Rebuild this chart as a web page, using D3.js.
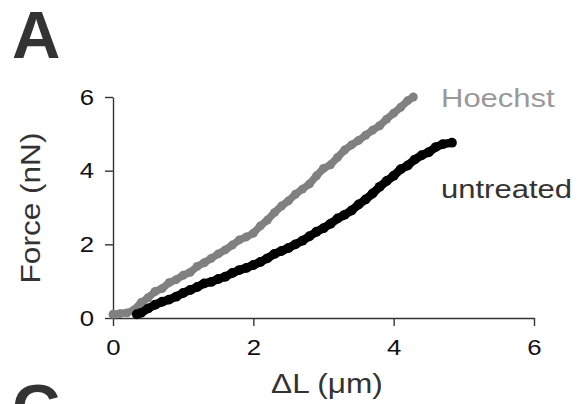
<!DOCTYPE html>
<html>
<head>
<meta charset="utf-8">
<script src="https://cdn.jsdelivr.net/npm/d3@7"></script>
<style>
  body { margin: 0; background: #fff; }
  svg text { font-family: "Liberation Sans", Arial, Helvetica, sans-serif; }
</style>
</head>
<body>
<div id="chart"></div>
<script>
// values (ΔL in µm, force in nN)
const hoechstX = [0.00, 0.10, 0.20, 0.30, 0.40, 0.50, 0.60, 0.70, 0.80, 0.90, 1.00, 1.10, 1.20, 1.30, 1.40, 1.50, 1.60, 1.70, 1.80, 1.90, 2.00, 2.10, 2.20, 2.30, 2.40, 2.50, 2.60, 2.70, 2.80, 2.90, 3.00, 3.10, 3.20, 3.30, 3.40, 3.50, 3.60, 3.70, 3.80, 3.90, 4.00, 4.10, 4.20, 4.28]
const hoechstY = [0.10, 0.12, 0.14, 0.22, 0.42, 0.55, 0.72, 0.80, 0.96, 1.04, 1.16, 1.24, 1.40, 1.50, 1.62, 1.74, 1.85, 1.98, 2.12, 2.20, 2.30, 2.50, 2.66, 2.86, 3.04, 3.18, 3.36, 3.50, 3.64, 3.86, 4.06, 4.16, 4.36, 4.56, 4.70, 4.82, 4.96, 5.10, 5.22, 5.40, 5.56, 5.72, 5.90, 6.00]

const untreatedX = [0.34, 0.40, 0.50, 0.60, 0.70, 0.80, 0.90, 1.00, 1.10, 1.20, 1.30, 1.40, 1.50, 1.60, 1.70, 1.80, 1.90, 2.00, 2.10, 2.20, 2.30, 2.40, 2.50, 2.60, 2.70, 2.80, 2.90, 3.00, 3.10, 3.20, 3.30, 3.40, 3.50, 3.60, 3.70, 3.80, 3.90, 4.00, 4.10, 4.20, 4.30, 4.40, 4.50, 4.60, 4.70, 4.83]
const untreatedY = [0.10, 0.14, 0.26, 0.36, 0.44, 0.50, 0.58, 0.68, 0.76, 0.84, 0.94, 0.98, 1.06, 1.12, 1.22, 1.30, 1.36, 1.44, 1.52, 1.62, 1.74, 1.82, 1.90, 2.00, 2.10, 2.22, 2.34, 2.44, 2.56, 2.70, 2.80, 2.92, 3.08, 3.22, 3.38, 3.56, 3.72, 3.86, 4.04, 4.14, 4.30, 4.42, 4.50, 4.64, 4.72, 4.76]

const xTicks = [0, 2, 4, 6]
const yTicks = [0, 2, 4, 6]

const width = 578, height = 404
const margin = { top: 97, right: 44, bottom: 86, left: 113 }
const textColor = '#333'
const sx = 1.17 // the lettering in the figure is a bit wider than Arial

const svg = d3.select('#chart')
  .append('svg')
  .attr('width', width)
  .attr('height', height)

const x = d3.scaleLinear()
  .domain([0, 6])
  .range([margin.left, width - margin.right])

const y = d3.scaleLinear()
  .domain([0, 6])
  .range([height - margin.bottom, margin.top])

// axes
const xAxis = svg.append('g')
  .attr('transform', `translate(0,${y(0)})`)
  .call(d3.axisBottom(x).tickValues(xTicks).tickFormat(d3.format('d'))
    .tickSize(8).tickSizeOuter(0).tickPadding(13))
xAxis.selectAll('text')
  .attr('transform', `scale(${sx},1)`)

const yAxis = svg.append('g')
  .attr('transform', `translate(${x(0)},0)`)
  .call(d3.axisLeft(y).tickValues(yTicks).tickFormat(d3.format('d'))
    .tickSize(8).tickSizeOuter(0).tickPadding(11))
yAxis.selectAll('text')
  .attr('x', -19 / sx)
  .attr('transform', `scale(${sx},1)`)

svg.selectAll('.domain, .tick line')
  .attr('stroke', textColor)
  .attr('stroke-width', 1.4)
svg.selectAll('.tick text')
  .attr('fill', '#111')
  .style('font-size', '22px')

// curves: a thick line plus a bead at every sample, like the overlapping markers in the figure
const line = d3.line()
  .x(d => x(d[0]))
  .y(d => y(d[1]))

const series = [
  { name: 'Hoechst', xs: hoechstX, ys: hoechstY, color: '#808080', w: 7.5 },
  { name: 'untreated', xs: untreatedX, ys: untreatedY, color: '#000', w: 8.5 },
]

const curves = svg.append('g')
  .selectAll('g')
  .data(series)
  .join('g')

curves.append('path')
  .attr('d', s => line(s.xs.map((v, i) => [v, s.ys[i]])))
  .attr('fill', 'none')
  .attr('stroke', s => s.color)
  .attr('stroke-width', s => s.w)
  .attr('stroke-linecap', 'round')
  .attr('stroke-linejoin', 'round')

curves.selectAll('circle')
  .data(s => s.xs.map((v, i) => ({ x: v, y: s.ys[i], color: s.color, r: s.w / 2 + 0.7 })))
  .join('circle')
  .attr('cx', d => x(d.x))
  .attr('cy', d => y(d.y))
  .attr('r', d => d.r)
  .attr('fill', d => d.color)

// labels
function label(txt, px, py, size, color, opts = {}) {
  const t = svg.append('text')
    .attr('transform', `translate(${px},${py})${opts.rotate ? ` rotate(${opts.rotate})` : ''} scale(${opts.sx ?? sx},1)`)
    .attr('text-anchor', opts.anchor ?? 'start')
    .attr('fill', color)
    .style('font-size', size + 'px')
    .text(txt)
  if (opts.bold) t.style('font-weight', 'bold')
  return t
}

label('Hoechst', 441, 107, 26.5, '#999')
label('untreated', 441, 198, 26.5, textColor)
label('ΔL (μm)', 327, 393, 27, textColor, { anchor: 'middle' })
label('Force (nN)', 40, 208, 27, textColor, { anchor: 'middle', rotate: -90 })

// panel letters (the next panel's letter is cut by the bottom edge, as in the figure)
label('A', 12, 58, 67, textColor, { bold: true, sx: 1 })
label('C', 12, 431, 67, textColor, { bold: true, sx: 1 })
</script>
</body>
</html>
